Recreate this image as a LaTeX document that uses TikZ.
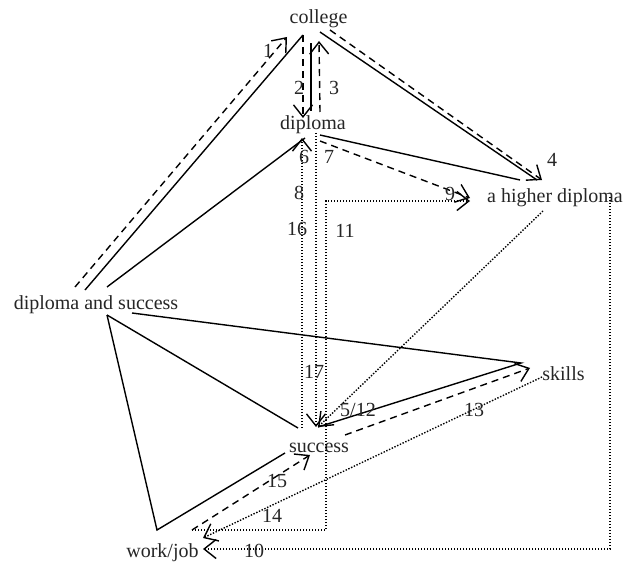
\documentclass[tikz,border=0pt]{standalone}
\usepackage{fontspec}
\setmainfont{Liberation Serif}
\usetikzlibrary{arrows.meta}
\begin{document}
\begin{tikzpicture}[x=1pt,y=-1pt,
  txt/.style={font=\fontsize{20}{24}\selectfont, inner sep=0pt, anchor=base, text=black!85},
  num/.style={font=\fontsize{20}{24}\selectfont, inner sep=0pt, text=black!85},
  ln/.style={line width=1.4pt, line join=miter},
  dsh/.style={line width=1.4pt, dash pattern=on 7pt off 5pt},
  dot/.style={line width=1.4pt, dash pattern=on 1.4pt off 1.6pt},
  arr/.style={-{Straight Barb[length=12pt,width=19pt,line width=1.4pt]}}]
\useasboundingbox[fill=white] (0,0) rectangle (626,564);

% text nodes
\node[txt] (col) at (318.5,24) {college};
\node[txt] (dip) at (313,130) {diploma};
\node[txt] (hd)  at (555,203) {a higher diploma};
\node[txt] (ds)  at (96,309) {diploma and success};
\node[txt] (sk)  at (563.5,380) {skills};
\node[txt] (suc) at (319,452) {success};
\node[txt] (wj)  at (162.5,557) {work/job};

% anchor points
\coordinate (dsA) at (75,287);
\coordinate (dsB) at (85,290);
\coordinate (dsC) at (107,287);
\coordinate (dsD) at (132,313);
\coordinate (dsE) at (107,315);
\coordinate (colA) at (287,37);
\coordinate (colB) at (303,35);
\coordinate (colC) at (311,43);
\coordinate (colD) at (319,41);
\coordinate (colE) at (320,32);
\coordinate (colF) at (330,30);
\coordinate (dipA) at (303,118);
\coordinate (dipB) at (311,111);
\coordinate (dipC) at (320,112);
\coordinate (dipD) at (305,138);
\coordinate (dipE) at (320,135);
\coordinate (dipF) at (320,141);
\coordinate (dipG) at (302,138);
\coordinate (dipH) at (316,133);
\coordinate (hdA) at (537,180);
\coordinate (hdB) at (542,180);
\coordinate (hdC) at (520,180);
\coordinate (hdD) at (470,198);
\coordinate (hdE) at (543,211);
\coordinate (hdF) at (610,197);
\coordinate (hdG) at (470,201);
\coordinate (skA) at (521,363);
\coordinate (skB) at (530,368);
\coordinate (skC) at (542,377);
\coordinate (sucA) at (318,427);
\coordinate (sucB) at (298,428);
\coordinate (sucC) at (285,453);
\coordinate (sucD) at (345,435);
\coordinate (sucE) at (310,455);
\coordinate (sucF) at (302,428);
\coordinate (sucG) at (316,427);
\coordinate (wjA) at (157,530);
\coordinate (wjB) at (192,530);
\coordinate (wjC) at (203,549);
\coordinate (wjD) at (203,538);

% solid lines
\draw[ln] (dsB) -- (colB);
\draw[ln] (dsC) -- (dipD);
\draw[ln] (colE) -- (hdA);
\draw[ln] (dipE) -- (hdC);
\draw[ln] (dipB) -- (colC);
\draw[ln] (dsD) -- (skA) -- (sucA);
\draw[ln] (dsE) -- (wjA) -- (sucC);
\draw[ln] (dsE) -- (sucB);

% dashed arrows
\draw[dsh,arr] (dsA) -- (colA);
\draw[dsh,arr] (colB) -- (dipA);
\draw[dsh,arr] (dipC) -- (colD);
\draw[dsh,arr] (colF) -- (hdB);
\draw[dsh,arr] (dipF) -- (hdD);
\draw[dsh,arr] (sucD) -- (skB);
\draw[dsh,arr] (wjB) -- (sucE);

% dotted arrows
\draw[dot,arr] (hdE) -- (sucA);
\draw[dot,arr] (sucF) -- (dipG);
\draw[dot,arr] (dipH) -- (sucG);
\draw[dot,arr] (wjB) -- (326,530) -- (326,201) -- (hdG);
\draw[dot,arr] (hdF) -- (610,549) -- (wjC);
\draw[dot,arr] (skC) -- (wjD);

% labels
\node[num] (n1) at (268,51) {1};
\node[num] (n2) at (299,88) {2};
\node[num] (n3) at (334,88) {3};
\node[num] (n4) at (552,160) {4};
\node[num] (n6) at (304,157) {6};
\node[num] (n7) at (329,157) {7};
\node[num] (n8) at (299,193) {8};
\node[num] (n16) at (297,229) {16};
\node[num] (n11) at (345,231) {11};
\node[num] (n9) at (450,194) {9};
\node[num] (n17) at (314,372) {17};
\node[num] (n512) at (358,410) {5/12};
\node[num] (n13) at (474,410) {13};
\node[num] (n15) at (277,481) {15};
\node[num] (n14) at (272,516) {14};
\node[num] (n10) at (254,551) {10};
\end{tikzpicture}
\end{document}
